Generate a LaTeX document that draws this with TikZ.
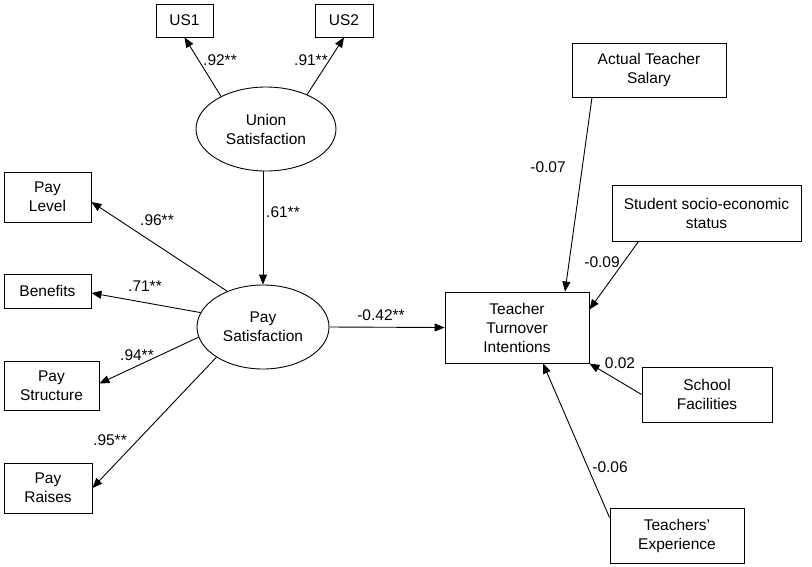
\documentclass[tikz,border=0pt]{standalone}
\usepackage{fontspec}
\setmainfont{Liberation Sans}
\usetikzlibrary{arrows.meta,shapes.geometric}
\begin{document}
\begin{tikzpicture}[x=1pt,y=-1pt,
  every node/.style={font=\fontsize{15.5}{19}\selectfont, inner sep=0pt},
  box/.style={draw, line width=0.9pt, align=center, rectangle},
  latent/.style={draw, line width=0.9pt, ellipse, align=center},
  lbl/.style={},
  conn/.style={line width=0.9pt, -{Triangle[length=10pt,width=8pt]}}]
\useasboundingbox (0,0) rectangle (812,566);
% observed
\node[box, minimum width=57pt, minimum height=33pt] (us1) at (184.5,20.5) {US1};
\node[box, minimum width=58pt, minimum height=33pt] (us2) at (344,20.5) {US2};
\node[latent, minimum width=140pt, minimum height=84pt] (union) at (266,129) {Union\\Satisfaction};
\node[latent, minimum width=132pt, minimum height=84pt] (pay) at (263,327) {Pay\\Satisfaction};
\node[box, minimum width=87pt, minimum height=50pt] (paylevel) at (47.5,197) {Pay\\Level};
\node[box, minimum width=87pt, minimum height=34pt] (benefits) at (47.5,291) {Benefits};
\node[box, minimum width=95pt, minimum height=49pt] (paystructure) at (51.5,385.5) {Pay\\Structure};
\node[box, minimum width=88pt, minimum height=50pt] (payraises) at (48,488) {Pay\\Raises};
\node[box, minimum width=144pt, minimum height=71pt] (teacher) at (517,327.5) {Teacher\\Turnover\\Intentions};
\node[box, minimum width=154pt, minimum height=54pt] (salary) at (649,70) {Actual Teacher\\Salary};
\node[box, minimum width=189pt, minimum height=56pt] (student) at (706.5,213) {Student socio-economic\\status};
\node[box, minimum width=130pt, minimum height=55pt] (school) at (707,394.5) {School\\Facilities};
\node[box, minimum width=134pt, minimum height=55pt] (experience) at (677,535.5) {Teachers'\\Experience};
% connectors
\draw[conn] (union.144.6) -- (us1.south);
\draw[conn] (union.40) -- (us2.south);
\draw[conn] (pay.north |- union.south) -- (pay.north);
\draw[conn] (pay.135) -- ([yshift=-5pt]paylevel.east);
\draw[conn] (pay.167.7) -- ([yshift=-2pt]benefits.east);
\draw[conn] (pay.189.6) -- ([yshift=2pt]paystructure.east);
\draw[conn] (pay.213.4) -- (payraises.east);
\draw[conn] (pay.east) -- (teacher.west);
\draw[conn] ([xshift=-57pt]salary.south) -- ([xshift=48pt]teacher.north);
\draw[conn] ([xshift=27pt]student.south west) -- ([yshift=18pt]teacher.east);
\draw[conn] (school.west) -- (teacher.south east);
\draw[conn] ([yshift=-10pt]experience.north west) -- ([xshift=26pt]teacher.south);
% labels
\node[lbl] (l1) at (220,60) {.92**};
\node[lbl] (l2) at (311,60) {.91**};
\node[lbl] (l3) at (283,212) {.61**};
\node[lbl] (l4) at (157,220) {.96**};
\node[lbl] (l5) at (145,286) {.71**};
\node[lbl] (l6) at (137,355) {.94**};
\node[lbl] (l7) at (110,440) {.95**};
\node[lbl] (l8) at (381,315) {-0.42**};
\node[lbl] (l9) at (548,167) {-0.07};
\node[lbl] (l10) at (602,262) {-0.09};
\node[lbl] (l11) at (620,363) {0.02};
\node[lbl] (l12) at (610,467) {-0.06};
\end{tikzpicture}
\end{document}
